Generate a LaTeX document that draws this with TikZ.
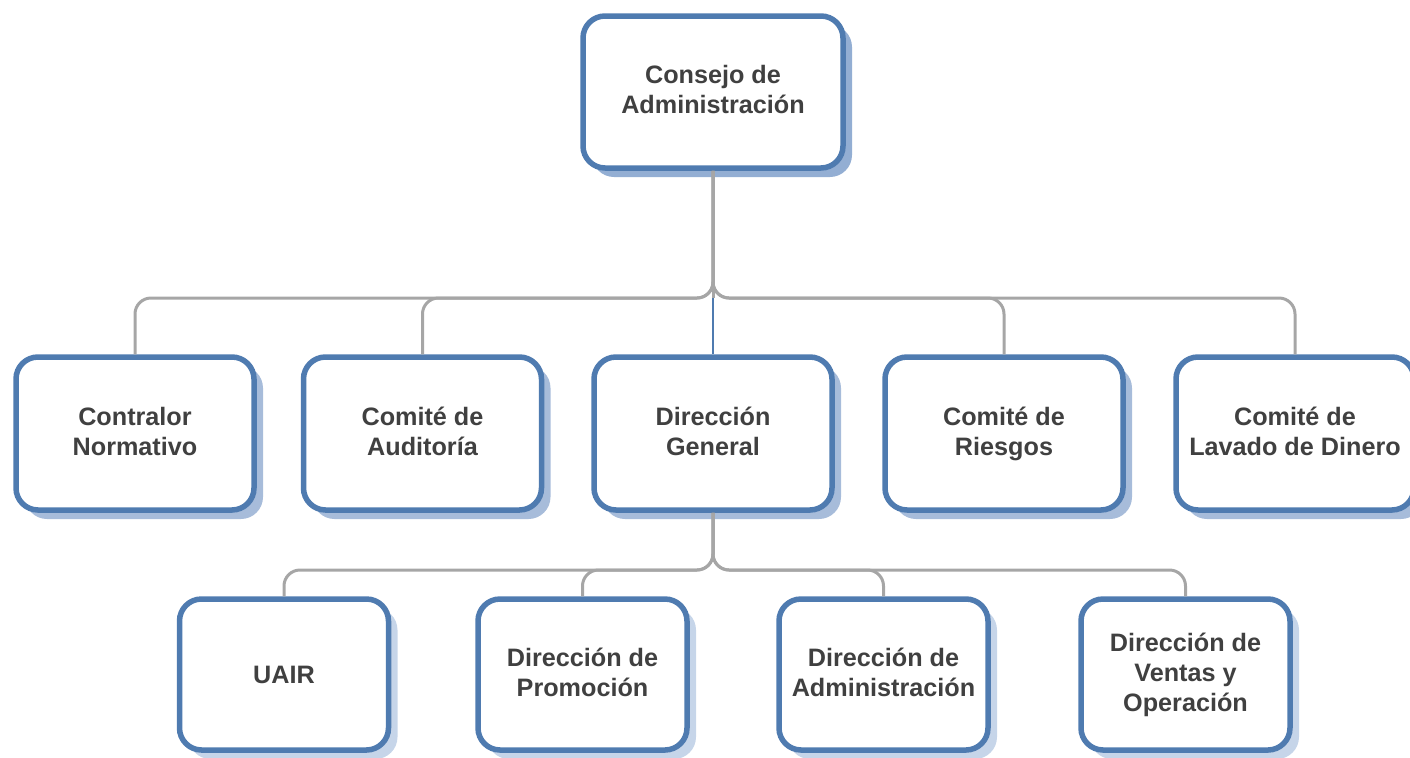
\documentclass[tikz,border=0pt]{standalone}
\usepackage{fontspec}
\setmainfont{Liberation Sans}
\usetikzlibrary{positioning,shadows}
\definecolor{BoxBlue}{HTML}{4F7BB0}
\definecolor{ShadeTop}{HTML}{93AED3}
\definecolor{ShadeMid}{HTML}{A7BCDA}
\definecolor{ShadeLow}{HTML}{C6D5E9}
\definecolor{LinkGray}{HTML}{A6A6A6}
\definecolor{TextGray}{HTML}{404040}
\newcommand\rowstrut{\rule[-2.4pt]{0pt}{13.8pt}}
\tikzset{
  unit/.style={draw=BoxBlue,line width=2.75pt,rounded corners=11pt,fill=white,
    align=center,text=TextGray,font=\bfseries\fontsize{12.6}{15}\selectfont,
    execute at begin node=\rowstrut,execute at end node=\rowstrut,
    minimum width=119pt,minimum height=76.5pt},
  shade/.style={general shadow={fill=#1,shadow xshift=4.5pt,shadow yshift=-4.5pt}},
  boss/.style={unit,shade=ShadeTop,minimum width=130pt,minimum height=76pt},
  mid/.style={unit,shade=ShadeMid},
  low/.style={unit,shade=ShadeLow,minimum width=104.5pt,minimum height=75.5pt},
  link/.style={draw=LinkGray,line width=1.5pt,rounded corners=8pt},
  mainlink/.style={draw=BoxBlue,line width=1pt},
}

\begin{document}
\begin{tikzpicture}[x=0.5pt,y=-0.5pt]
\useasboundingbox (0,0) rectangle (1410,757);
% top
\node[boss] (board) at (713,92) {Consejo de\\Administración};
% second row
\node[mid] (ctrl) at (135,433.5) {Contralor\\Normativo};
\node[mid] (audit) at (422.5,433.5) {Comité de\\Auditoría};
\node[mid] (gen) at (713,433.5) {Dirección\\General};
\node[mid] (risk) at (1004,433.5) {Comité de\\Riesgos};
\node[mid] (aml) at (1295,433.5) {Comité de\\Lavado de Dinero};
% third row
\node[low] (uair) at (284,674.5) {UAIR};
\node[low] (promo) at (582.5,674.5) {Dirección de\\Promoción};
\node[low] (admin) at (883.5,674.5) {Dirección de\\Administración};
\node[low] (sales) at (1185.5,674.5) {Dirección de\\Ventas y\\Operación};
% links
\coordinate (bus) at (713,298);
\coordinate (bus2) at (713,570);
\foreach \n in {ctrl,audit,risk,aml}
  \draw[link] (board.south) -- (bus) -| (\n.north);
\draw[link] (board.south) -- (bus);
\draw[mainlink] (bus) -- (gen.north);
\foreach \n in {uair,promo,admin,sales}
  \draw[link] (gen.south) -- (bus2) -| (\n.north);
\end{tikzpicture}
\end{document}
